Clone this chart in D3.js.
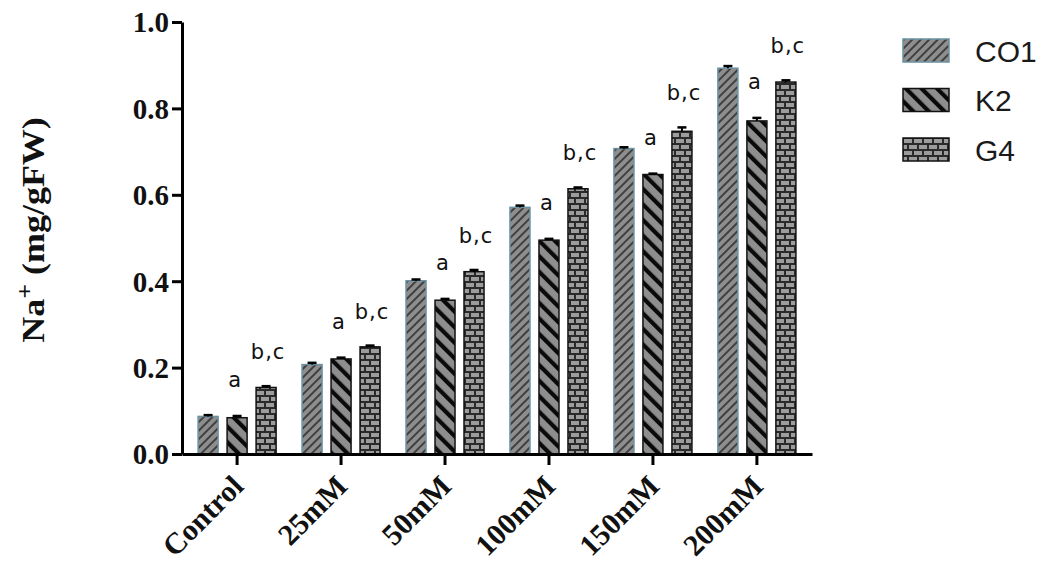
<!DOCTYPE html>
<html>
<head>
<meta charset="utf-8">
<script src="https://cdn.jsdelivr.net/npm/d3@7"></script>
<style>
  body { margin: 0; background: #fff; }
  svg { display: block; }
  .tick text { font-family: 'Liberation Serif', 'Times New Roman', serif; font-weight: bold; fill: #111; }
  .letter { font-family: 'DejaVu Sans', Verdana, sans-serif; font-size: 21px; letter-spacing: 1px; fill: #111; }
  .legend text { font-family: 'Liberation Sans', Arial, sans-serif; font-size: 30px; fill: #1a1a1a; }
</style>
</head>
<body>
<svg width="1042" height="567"></svg>
<script>
// data
const categories = ['Control', '25mM', '50mM', '100mM', '150mM', '200mM']
const seriesNames = ['CO1', 'K2', 'G4']
const co1 = [0.087, 0.207, 0.401, 0.571, 0.707, 0.893]
const k2 = [0.084, 0.220, 0.356, 0.495, 0.647, 0.771]
const g4 = [0.154, 0.248, 0.422, 0.614, 0.747, 0.861]
const co1Err = [0.003, 0.004, 0.003, 0.004, 0.003, 0.005]
const k2Err = [0.004, 0.003, 0.003, 0.003, 0.002, 0.007]
const g4Err = [0.003, 0.003, 0.004, 0.003, 0.009, 0.004]
const k2Letters = ['a', 'a', 'a', 'a', 'a', 'a']
const g4Letters = ['b,c', 'b,c', 'b,c', 'b,c', 'b,c', 'b,c']
const yTicks = [0, 0.2, 0.4, 0.6, 0.8, 1.0]

const svg = d3.select('svg')
const values = {CO1: co1, K2: k2, G4: g4}
const errs = {CO1: co1Err, K2: k2Err, G4: g4Err}

const yScale = d3.scaleLinear().domain([0, 1]).range([454, 22])
const x0 = d3.scaleBand().domain(categories).range([182, 812]).paddingInner(0).paddingOuter(0.03)
const x1 = d3.scaleBand().domain(seriesNames).range([-43.5, 43.5]).paddingInner(0.31).paddingOuter(0.155)
const center = c => x0(c) + x0.bandwidth() / 2

// patterns
const defs = svg.append('defs')

const pCO1 = defs.append('pattern')
  .attr('id', 'pat-CO1').attr('patternUnits', 'userSpaceOnUse')
  .attr('width', 6).attr('height', 6)
  .attr('patternTransform', 'rotate(45)')
pCO1.append('rect').attr('width', 6).attr('height', 6).attr('fill', '#8e8e8e')
pCO1.append('line').attr('x1', 1).attr('x2', 1).attr('y1', 0).attr('y2', 6)
  .attr('stroke', '#1e1e1e').attr('stroke-width', 1.4)

const pK2 = defs.append('pattern')
  .attr('id', 'pat-K2').attr('patternUnits', 'userSpaceOnUse')
  .attr('width', 11).attr('height', 11)
  .attr('patternTransform', 'rotate(-45)')
pK2.append('rect').attr('width', 11).attr('height', 11).attr('fill', '#8e8e8e')
pK2.append('rect').attr('x', 0).attr('width', 4.2).attr('height', 11).attr('fill', '#0a0a0a')

const pG4 = defs.append('pattern')
  .attr('id', 'pat-G4').attr('patternUnits', 'userSpaceOnUse')
  .attr('width', 10).attr('height', 12)
pG4.append('rect').attr('width', 10).attr('height', 12).attr('fill', '#2a2a2a')
pG4.append('rect').attr('x', 1).attr('y', 1).attr('width', 8).attr('height', 4).attr('fill', '#9c9c9c')
pG4.append('rect').attr('x', -4).attr('y', 7).attr('width', 8).attr('height', 4).attr('fill', '#9c9c9c')
pG4.append('rect').attr('x', 6).attr('y', 7).attr('width', 8).attr('height', 4).attr('fill', '#9c9c9c')

const strokeOf = {CO1: '#6a93a3', K2: '#111', G4: '#111'}

// bars
const rows = []
categories.forEach((c, i) => {
  seriesNames.forEach(s => rows.push({cat: c, s, v: values[s][i], e: errs[s][i]}))
})

const g = svg.append('g')

g.selectAll('rect.bar')
  .data(rows)
  .enter()
  .append('rect')
  .attr('class', 'bar')
  .attr('x', d => center(d.cat) + x1(d.s))
  .attr('y', d => yScale(d.v))
  .attr('width', x1.bandwidth())
  .attr('height', d => yScale(0) - yScale(d.v))
  .attr('fill', d => `url(#pat-${d.s})`)
  .attr('stroke', d => strokeOf[d.s])
  .attr('stroke-width', 1.5)

// error bars (upper only)
const eb = g.selectAll('g.err')
  .data(rows)
  .enter()
  .append('g')
  .attr('class', 'err')
  .attr('transform', d => `translate(${center(d.cat) + x1(d.s) + x1.bandwidth() / 2},0)`)
eb.append('line')
  .attr('y1', d => yScale(d.v)).attr('y2', d => yScale(d.v + d.e))
  .attr('stroke', '#000').attr('stroke-width', 2)
eb.append('line')
  .attr('x1', -4.5).attr('x2', 4.5)
  .attr('y1', d => yScale(d.v + d.e)).attr('y2', d => yScale(d.v + d.e))
  .attr('stroke', '#000').attr('stroke-width', 2.5)

// significance letters
g.selectAll('text.la')
  .data(categories)
  .enter()
  .append('text')
  .attr('class', 'letter')
  .attr('text-anchor', 'middle')
  .attr('x', c => center(c) + x1('K2') + x1.bandwidth() / 2 - 2)
  .attr('y', (c, i) => yScale(k2[i] + k2Err[i]) - 29)
  .text((c, i) => k2Letters[i])

g.selectAll('text.lb')
  .data(categories)
  .enter()
  .append('text')
  .attr('class', 'letter')
  .attr('text-anchor', 'middle')
  .attr('x', c => center(c) + x1('G4') + x1.bandwidth() / 2 + 2)
  .attr('y', (c, i) => yScale(g4[i] + g4Err[i]) - 27)
  .text((c, i) => g4Letters[i])

// axes
const yAxisG = svg.append('g')
  .attr('transform', 'translate(182,0)')
  .call(d3.axisLeft(yScale).tickValues(yTicks).tickFormat(d3.format('.1f')).tickSize(10).tickSizeOuter(0).tickPadding(3))
yAxisG.select('.domain').attr('stroke-width', 3).attr('stroke', '#000')
yAxisG.selectAll('.tick line').attr('stroke-width', 3).attr('stroke', '#000')
yAxisG.selectAll('.tick text').attr('font-size', 29).attr('dy', '0.34em')

const xAxisG = svg.append('g')
  .attr('transform', 'translate(0,454)')
  .call(d3.axisBottom(x0).tickSize(11).tickSizeOuter(0))
xAxisG.select('.domain').attr('stroke-width', 3).attr('stroke', '#000')
xAxisG.selectAll('.tick text')
  .attr('font-size', 30)
  .attr('text-anchor', 'end')
  .attr('dy', 0)
  .attr('transform', 'translate(8,34) rotate(-45)')
  .attr('x', 0).attr('y', 0)
xAxisG.selectAll('.tick line').attr('stroke-width', 3).attr('stroke', '#000')

// y axis title
svg.append('text')
  .attr('transform', 'translate(44,230) rotate(-90) scale(1,0.85)')
  .attr('text-anchor', 'middle')
  .attr('font-family', "'Liberation Serif', 'Times New Roman', serif")
  .attr('font-weight', 'bold')
  .attr('font-size', 36)
  .attr('fill', '#111')
  .call(t => {
    t.append('tspan').text('Na')
    t.append('tspan').attr('baseline-shift', 'super').attr('font-size', 26).text('+')
    t.append('tspan').text(' (mg/gFW)')
  })

// legend
const legend = svg.append('g').attr('class', 'legend')
  .attr('transform', 'translate(903,39)')
const item = legend.selectAll('g')
  .data(seriesNames)
  .enter()
  .append('g')
  .attr('transform', (d, i) => `translate(0,${i * 49.5})`)
item.append('rect')
  .attr('width', 46).attr('height', 23)
  .attr('fill', d => `url(#pat-${d})`)
  .attr('stroke', d => strokeOf[d])
  .attr('stroke-width', 1.5)
item.append('text')
  .attr('x', 72).attr('y', 12)
  .attr('dy', '0.35em')
  .text(d => d)
</script>
</body>
</html>
